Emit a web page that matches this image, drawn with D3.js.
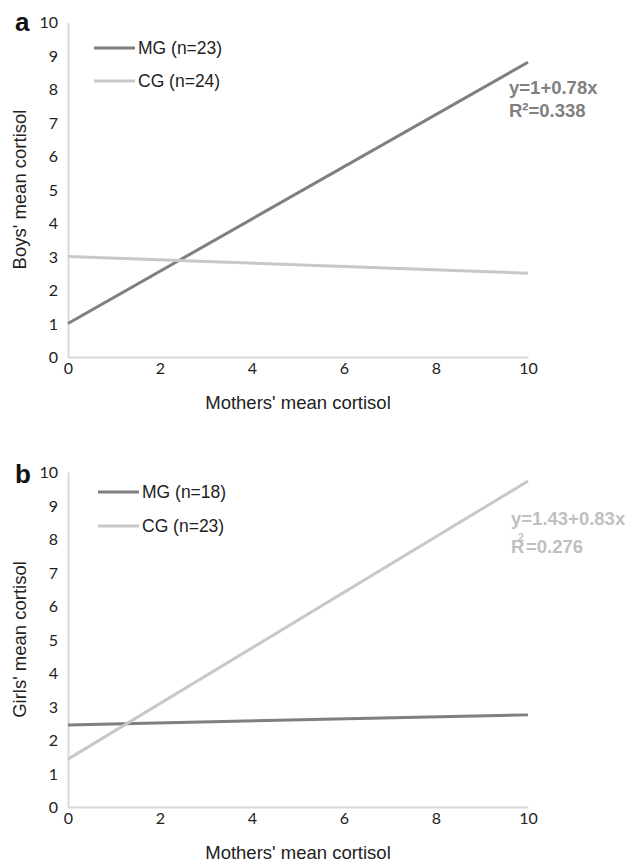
<!DOCTYPE html>
<html><head><meta charset="utf-8">
<script src="https://cdn.jsdelivr.net/npm/d3@7"></script>
<style>body{margin:0;background:#fff}</style>
</head><body>
<svg id="c" width="630" height="864"></svg>
<script>
// Data
const xDomain = [0, 10];
const yDomain = [0, 10];
const xTicks = [0, 2, 4, 6, 8, 10];
const yTicks = [0, 1, 2, 3, 4, 5, 6, 7, 8, 9, 10];
const seriesNames = ["MG", "CG"];
// panel a: boys (fitted line endpoints at x=0 and x=10)
const boysX = [0, 10];
const boysMG = [1, 8.8];
const boysCG = [3, 2.5];
const boysLegend = ["MG (n=23)", "CG (n=24)"];
const boysEq = ["y=1+0.78x", "R²=0.338"];
// panel b: girls
const girlsX = [0, 10];
const girlsMG = [2.45, 2.75];
const girlsCG = [1.43, 9.73];
const girlsLegend = ["MG (n=18)", "CG (n=23)"];
const girlsEq = ["y=1.43+0.83x", "R", "2", "=0.276"];

const colors = {MG: "#7f7f7f", CG: "#c8c8c8"};
const FONT = "'Liberation Sans', Arial, sans-serif";
const svg = d3.select("#c");

function panel(opts) {
  const g = svg.append("g");
  const x = d3.scaleLinear().domain(xDomain).range([68, 528]);
  const y = d3.scaleLinear().domain(yDomain).range([opts.bottom, opts.top]);
  const xa = g.append("g").attr("transform", `translate(0,${opts.bottom})`)
    .call(d3.axisBottom(x).tickValues(xTicks).tickSize(0).tickPadding(6));
  const ya = g.append("g").attr("transform", `translate(68,0)`)
    .call(d3.axisLeft(y).tickValues(yTicks).tickSize(0).tickPadding(10));
  [xa, ya].forEach(a => {
    a.select(".domain").attr("stroke", "#d9d9d9").attr("stroke-width", 2);
    a.selectAll("text").attr("font-family", "Lato, 'Open Sans', sans-serif")
      .attr("font-size", 16).attr("fill", "#222");
  });
  ya.selectAll(".tick text").attr("dy", "0.35em");
  const line = d3.line().x((d, i) => x(opts.xs[i])).y(d => y(d));
  [["MG", opts.mg], ["CG", opts.cg]].forEach(([k, v]) => {
    g.append("path").datum(v).attr("d", line).attr("fill", "none")
      .attr("stroke", colors[k]).attr("stroke-width", 3);
  });
  opts.legend.forEach((t, i) => {
    const ly = opts.legY[i];
    g.append("line").attr("x1", opts.legX).attr("x2", opts.legX + 41)
      .attr("y1", ly).attr("y2", ly).attr("stroke", colors[seriesNames[i]]).attr("stroke-width", 3);
    g.append("text").attr("x", opts.legX + 44).attr("y", ly).attr("dy", "0.36em")
      .attr("font-family", FONT).attr("font-size", 17.5)
      .attr("fill", "#222").text(t);
  });
  g.append("text").attr("x", 298).attr("y", opts.bottom + 52).attr("text-anchor", "middle")
    .attr("font-family", FONT).attr("font-size", 18.5)
    .attr("fill", "#222").text("Mothers' mean cortisol");
  g.append("text").attr("transform", `translate(26,${(opts.top + opts.bottom) / 2}) rotate(-90)`)
    .attr("text-anchor", "middle")
    .attr("font-family", FONT).attr("font-size", 18.5)
    .attr("fill", "#222").text(opts.ytitle);
  g.append("text").attr("x", 15).attr("y", opts.letterY)
    .attr("font-family", FONT).attr("font-size", 26)
    .attr("font-weight", "bold").attr("fill", "#111").text(opts.letter);
  return g;
}

const ga = panel({top: 22, bottom: 357, xs: boysX, mg: boysMG, cg: boysCG, legend: boysLegend,
  legX: 94, legY: [48, 81], ytitle: "Boys' mean cortisol", letter: "a", letterY: 31});
ga.append("text").attr("x", 509).attr("y", 94).attr("font-family", FONT)
  .attr("font-size", 18.5).attr("font-weight", "bold").attr("fill", colors.MG).text(boysEq[0]);
ga.append("text").attr("x", 509).attr("y", 117).attr("font-family", FONT)
  .attr("font-size", 18.5).attr("font-weight", "bold").attr("fill", colors.MG).text(boysEq[1]);

const gb = panel({top: 472, bottom: 807, xs: girlsX, mg: girlsMG, cg: girlsCG, legend: girlsLegend,
  legX: 98, legY: [492, 526], ytitle: "Girls' mean cortisol", letter: "b", letterY: 483});
const eqc = "#c0c0c0";
gb.append("text").attr("x", 511).attr("y", 525).attr("font-family", FONT)
  .attr("font-size", 18.5).attr("font-weight", "bold").attr("fill", eqc).text(girlsEq[0]);
gb.append("text").attr("x", 511).attr("y", 553).attr("font-family", FONT)
  .attr("font-size", 18.5).attr("font-weight", "bold").attr("fill", eqc).text(girlsEq[1]);
gb.append("text").attr("x", 518).attr("y", 541).attr("font-family", FONT)
  .attr("font-size", 10.5).attr("font-weight", "bold").attr("fill", eqc).text(girlsEq[2]);
gb.append("text").attr("x", 526).attr("y", 553).attr("font-family", FONT)
  .attr("font-size", 18.5).attr("font-weight", "bold").attr("fill", eqc).text(girlsEq[3]);
</script>
</body></html>
